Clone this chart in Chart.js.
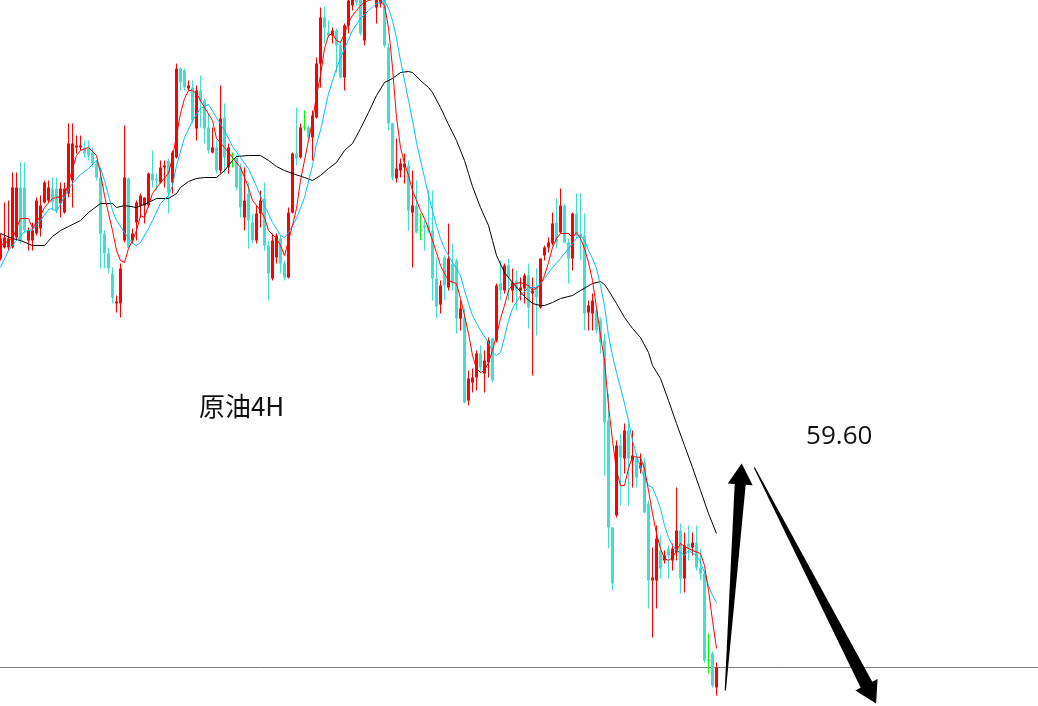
<!DOCTYPE html>
<html>
<head>
<meta charset="utf-8">
<title>原油4H</title>
<script src="https://cdn.jsdelivr.net/npm/chart.js@4/dist/chart.umd.min.js"></script>
<style>
  html, body { margin: 0; padding: 0; background: #ffffff; overflow: hidden; }
  #wrap { width: 1038px; height: 706px; position: relative; }
  canvas { display: block; }
</style>
</head>
<body>
<div id="wrap"><canvas id="chart" width="1038" height="706"></canvas></div>
<script>
// Crude oil, 4-hour candles (oldest first)
const opens = [
  59.42,59.53,59.53,59.53,59.63,60.13,60.13,59.60,59.60,59.67,
  59.72,59.98,60.00,60.12,60.12,59.97,59.88,60.07,60.20,60.53,
  60.53,60.53,60.52,60.48,60.37,60.23,59.67,59.47,59.27,58.97,
  58.97,59.60,60.22,59.60,59.78,59.95,59.95,59.95,60.27,60.22,
  60.18,60.33,60.40,60.18,60.43,61.32,61.30,61.12,61.13,60.72,
  61.10,61.00,60.73,60.48,60.53,60.30,60.83,60.33,60.44,60.43,
  60.33,59.83,60.07,59.78,59.60,59.87,60.02,59.55,59.22,59.43,
  59.62,59.37,59.23,59.88,60.47,60.43,60.73,60.73,60.63,60.83,
  61.37,61.83,61.68,61.65,61.70,61.55,61.23,61.75,61.95,62.12,
  62.05,61.60,62.20,62.08,61.93,61.97,62.05,61.53,60.77,60.22,
  60.30,60.33,60.35,59.88,59.95,59.70,59.75,59.75,59.70,59.22,
  58.96,59.43,59.13,59.37,59.40,58.82,58.83,58.00,58.18,58.23,
  58.47,58.27,58.38,58.62,58.60,59.17,59.10,59.35,59.10,59.20,
  59.10,59.12,59.25,59.07,59.13,58.93,59.45,59.53,59.57,59.78,
  59.68,59.95,59.58,59.42,59.87,59.67,59.65,58.88,58.87,58.90,
  58.80,58.60,57.80,56.73,56.85,57.55,57.42,57.70,57.40,57.42,
  57.32,57.38,56.97,56.20,56.20,56.50,56.40,56.52,56.40,56.48,
  56.70,56.22,56.57,56.53,56.58,56.33,56.27,55.40,55.47,55.13
];
const highs = [
  59.67,59.98,60.00,60.28,60.28,60.38,60.38,59.73,59.78,60.03,
  60.05,60.20,60.20,60.23,60.23,60.18,60.18,60.77,60.77,60.65,
  60.65,60.60,60.60,60.53,60.40,60.33,59.70,59.53,59.33,59.05,
  59.37,60.75,60.23,59.72,60.00,60.07,60.03,60.28,60.50,60.27,
  60.40,60.40,60.42,60.50,61.37,61.33,61.32,61.20,61.20,61.15,
  61.25,61.02,60.87,60.73,60.60,61.15,60.97,60.57,60.48,60.45,
  60.37,60.33,60.18,59.87,59.95,60.10,60.18,59.60,59.67,59.67,
  59.65,59.40,59.93,60.48,60.93,60.77,60.90,60.75,60.90,61.43,
  61.93,61.94,61.80,61.73,61.72,61.60,61.77,62.08,62.20,62.18,
  62.10,62.12,62.25,62.30,62.10,62.08,62.10,61.57,60.78,60.62,
  60.42,60.47,60.40,60.30,60.20,59.87,59.80,60.10,60.10,59.43,
  59.20,59.45,59.77,59.57,59.42,59.00,58.92,58.30,58.32,58.50,
  58.55,58.50,58.63,58.63,59.17,59.40,59.37,59.42,59.32,59.30,
  59.23,59.27,59.37,59.23,59.32,59.42,59.55,59.63,59.88,60.02,
  60.12,59.97,59.62,59.88,60.07,60.07,59.87,59.00,59.07,58.93,
  58.83,58.67,58.07,56.73,57.60,57.67,57.77,57.77,57.70,57.47,
  57.47,57.43,57.00,56.53,56.75,56.65,56.50,56.55,56.57,57.13,
  56.77,56.68,56.75,56.68,56.75,56.52,56.30,55.67,55.49,55.38
];
const lows = [
  59.40,59.52,59.50,59.52,59.60,59.57,59.67,59.50,59.50,59.65,
  59.64,59.97,59.98,59.90,59.87,59.83,59.87,60.03,59.93,60.47,
  60.50,60.43,60.40,60.33,60.20,59.32,59.32,59.27,58.97,58.88,
  58.83,59.58,59.52,59.57,59.60,59.83,59.77,59.93,60.13,60.10,
  60.17,60.13,59.87,60.07,60.42,61.10,61.10,61.10,60.77,60.60,
  60.73,60.57,60.47,60.47,60.27,60.27,60.27,60.27,60.33,60.10,
  59.83,59.70,59.52,59.57,59.57,59.73,59.50,59.00,59.20,59.37,
  59.27,59.20,59.22,59.87,60.35,60.42,60.70,60.62,60.40,60.82,
  61.13,61.57,61.63,61.57,61.28,61.22,61.10,61.67,61.90,61.95,
  61.65,61.55,62.05,62.03,61.77,61.93,61.53,60.70,60.20,60.18,
  60.23,60.17,59.70,59.33,59.67,59.60,59.50,59.67,59.00,58.82,
  58.87,59.00,59.10,59.10,58.67,58.70,57.97,57.95,58.08,58.10,
  58.27,58.08,58.23,58.18,58.58,59.00,59.07,59.00,58.98,58.90,
  59.00,58.97,58.72,58.25,58.65,58.92,59.40,59.48,59.55,59.52,
  59.67,59.57,59.17,59.30,59.62,59.40,58.70,58.70,58.70,58.67,
  58.47,57.25,56.52,56.10,56.83,56.95,57.27,56.95,57.13,57.13,
  57.27,56.87,55.92,55.63,55.92,56.22,56.37,56.22,56.30,56.40,
  56.07,56.08,56.40,56.45,56.30,56.20,55.38,55.27,55.13,55.05
];
const closes = [
  59.62,59.63,59.62,60.13,60.13,59.60,59.70,59.70,59.70,60.00,
  59.95,60.18,60.13,59.98,59.90,60.12,60.12,60.57,60.57,60.55,
  60.55,60.47,60.45,60.37,60.23,59.67,59.47,59.32,59.03,58.99,
  59.32,60.23,59.53,59.67,59.98,60.05,60.03,60.27,60.20,60.20,
  60.33,60.35,60.08,60.48,61.32,61.18,61.13,61.15,60.80,61.10,
  61.00,60.72,60.50,60.53,60.30,60.82,60.43,60.53,60.44,60.13,
  59.93,60.00,59.80,59.60,59.87,60.00,59.55,59.27,59.60,59.65,
  59.37,59.23,59.88,60.47,60.42,60.73,60.73,60.63,60.85,61.37,
  61.83,61.73,61.65,61.70,61.55,61.23,61.75,62.00,62.12,61.98,
  61.67,62.03,62.08,62.22,62.02,62.05,61.55,60.77,60.23,60.32,
  60.37,60.37,59.90,59.95,59.68,59.70,59.73,59.70,59.22,58.94,
  59.15,59.15,59.42,59.17,58.82,58.92,57.98,58.22,58.23,58.47,
  58.33,58.40,58.60,58.20,59.15,59.10,59.35,59.23,59.18,59.10,
  59.13,59.25,58.93,59.10,59.03,59.42,59.53,59.58,59.77,59.58,
  59.95,59.58,59.42,59.87,59.65,59.63,58.87,58.95,59.00,58.70,
  58.58,57.78,56.73,56.17,57.55,57.43,57.70,57.42,57.45,57.23,
  57.38,56.88,56.20,56.23,56.62,56.32,56.45,56.45,56.52,56.70,
  56.22,56.55,56.52,56.58,56.33,56.27,55.40,55.40,55.15,55.33
];

// Moving averages as [candle index, price]
const fastMa = [
  [0,59.55],[3,59.62],[5,59.82],[7,59.82],[8,59.72],[10,59.85],[11,59.93],[13,60.02],[16,60.05],[17,60.17],
  [18,60.32],[19,60.45],[20,60.50],[22,60.53],[24,60.45],[25,60.27],[26,60.05],[27,59.87],[28,59.70],[29,59.50],
  [30,59.40],[31,59.38],[32,59.52],[33,59.60],[34,59.70],[35,59.85],[36,59.83],[37,59.95],[38,60.07],[40,60.18],
  [42,60.27],[43,60.43],[44,60.65],[45,60.87],[46,61.02],[47,61.10],[48,61.10],[49,61.07],[51,60.93],[53,60.80],
  [54,60.62],[56,60.53],[58,60.43],[60,60.33],[62,60.13],[63,60.00],[65,59.90],[66,59.83],[67,59.70],[69,59.62],
  [70,59.55],[71,59.45],[72,59.60],[73,59.75],[74,59.92],[75,60.20],[76,60.40],[77,60.60],[78,60.80],[79,61.05],
  [80,61.25],[81,61.52],[82,61.65],[83,61.67],[84,61.60],[85,61.58],[86,61.67],[87,61.78],[88,61.85],[89,61.90],
  [90,61.95],[91,61.98],[92,62.00],[94,62.02],[95,62.00],[96,61.95],[97,61.73],[98,61.33],[99,60.83],[100,60.53],
  [101,60.37],[102,60.25],[103,60.10],[104,60.00],[105,59.90],[106,59.82],[107,59.72],[108,59.60],[109,59.48],[110,59.35],
  [111,59.27],[112,59.20],[114,59.17],[115,59.02],[116,58.85],[117,58.67],[118,58.45],[119,58.32],[120,58.28],[121,58.30],
  [122,58.38],[123,58.50],[124,58.65],[125,58.82],[126,58.95],[127,59.10],[128,59.16],[130,59.18],[132,59.15],[133,59.10],
  [135,59.15],[136,59.25],[137,59.38],[138,59.53],[139,59.62],[140,59.67],[142,59.67],[143,59.63],[144,59.68],[145,59.62],
  [146,59.52],[147,59.38],[148,59.20],[149,58.93],[150,58.65],[151,58.40],[152,57.95],[153,57.60],[154,57.30],[155,57.15],
  [156,57.15],[157,57.32],[158,57.44],[160,57.43],[161,57.32],[162,57.10],[163,56.87],[164,56.67],[165,56.52],[166,56.42],
  [167,56.40],[168,56.43],[169,56.50],[170,56.57],[171,56.54],[173,56.50],[175,56.47],[176,56.35],[177,56.10],[178,55.80],
  [179,55.52]
];
const midMa = [
  [0,59.33],[2,59.50],[4,59.60],[6,59.69],[8,59.71],[10,59.80],[12,59.91],[13,59.92],[14,59.89],[16,60.04],
  [18,60.17],[20,60.26],[22,60.32],[24,60.40],[25,60.32],[26,60.20],[27,60.05],[28,59.90],[29,59.80],[31,59.68],
  [33,59.57],[34,59.55],[35,59.58],[37,59.72],[38,59.80],[40,59.97],[42,60.05],[43,60.15],[44,60.35],[46,60.63],
  [48,60.80],[50,60.92],[52,60.96],[54,60.83],[56,60.70],[58,60.54],[60,60.43],[62,60.32],[64,60.14],[66,59.95],
  [68,59.78],[70,59.65],[71,59.63],[72,59.68],[74,59.82],[76,60.03],[78,60.35],[79,60.57],[80,60.70],[82,61.07],
  [84,61.32],[86,61.52],[88,61.70],[90,61.82],[92,61.90],[94,61.97],[96,62.00],[97,61.92],[98,61.80],[99,61.62],
  [100,61.40],[101,61.20],[102,61.00],[103,60.80],[104,60.58],[105,60.40],[106,60.23],[107,60.05],[108,59.90],[109,59.75],
  [110,59.62],[111,59.52],[112,59.45],[113,59.38],[114,59.32],[115,59.25],[116,59.10],[117,58.97],[118,58.85],[120,58.70],
  [122,58.58],[123,58.48],[124,58.45],[125,58.48],[126,58.63],[127,58.80],[128,58.92],[130,59.05],[132,59.13],[134,59.13],
  [136,59.22],[138,59.33],[140,59.42],[142,59.52],[144,59.62],[145,59.65],[146,59.60],[147,59.50],[148,59.42],[149,59.32],
  [150,59.15],[151,58.95],[152,58.65],[153,58.45],[154,58.28],[155,58.13],[156,57.97],[157,57.80],[158,57.60],[159,57.45],
  [160,57.33],[161,57.22],[162,57.15],[163,57.13],[164,57.03],[165,56.92],[166,56.75],[167,56.63],[168,56.55],[169,56.50],
  [170,56.48],[171,56.45],[172,56.50],[174,56.45],[175,56.38],[176,56.28],[177,56.15],[178,56.05],[179,55.98]
];
const slowMa = [
  [0,59.67],[3,59.62],[5,59.60],[8,59.55],[11,59.55],[13,59.64],[15,59.70],[17,59.74],[20,59.80],[22,59.88],
  [25,59.97],[28,59.97],[29,59.93],[31,59.95],[34,59.93],[37,59.98],[39,60.02],[42,60.02],[44,60.07],[45,60.13],
  [47,60.19],[49,60.22],[51,60.23],[54,60.23],[56,60.30],[58,60.40],[59,60.44],[62,60.45],[65,60.45],[67,60.40],
  [69,60.34],[71,60.30],[73,60.27],[76,60.23],[78,60.20],[80,60.25],[82,60.32],[84,60.38],[86,60.50],[88,60.57],
  [90,60.72],[92,60.88],[94,61.05],[96,61.18],[98,61.22],[100,61.28],[102,61.29],[103,61.28],[105,61.20],[107,61.13],
  [108,61.08],[110,60.93],[112,60.76],[114,60.60],[116,60.40],[117,60.27],[118,60.14],[120,59.93],[122,59.75],[123,59.60],
  [124,59.45],[126,59.28],[128,59.18],[131,59.04],[133,58.97],[135,58.95],[136,58.95],[138,58.98],[140,59.02],[143,59.05],
  [145,59.10],[148,59.17],[150,59.19],[151,59.16],[152,59.10],[154,58.97],[156,58.83],[158,58.72],[160,58.63],[162,58.48],
  [163,58.35],[165,58.22],[167,58.00],[169,57.77],[171,57.55],[173,57.33],[175,57.10],[177,56.87],[179,56.67]
];

// Hand-drawn annotations
const noteText  = ['原油4H', '59.60'];
const noteX     = [49.6, 201.4];
const notePrice = [57.85, 57.57];
const noteFont  = ['26px "Noto Sans CJK SC", "Noto Sans", sans-serif', '26px "Open Sans", "Noto Sans", sans-serif'];

const arrowFromX = [181.2, 188.45];
const arrowFromY = [55.10, 57.33];
const arrowToX   = [185.3, 218.9];
const arrowToY   = [57.37, 54.97];
const arrowShaft = [5.5, 6.5];

const UP_COLOR = '#ff0000';
const DOWN_COLOR = '#40e0d0';
const DOJI_COLOR = '#00ff00';

function candleColor(i) {
  if (closes[i] > opens[i]) return UP_COLOR;
  if (closes[i] < opens[i]) return DOWN_COLOR;
  return DOJI_COLOR;
}

const colors = opens.map((o, i) => candleColor(i));
const wickData = opens.map((o, i) => ({ x: i, y: [lows[i], highs[i]] }));
const bodyData = opens.map((o, i) => ({ x: i, y: [o, closes[i]] }));
const toPoints = pairs => pairs.map(p => ({ x: p[0], y: p[1] }));
const lastClose = closes[closes.length - 1];

const annotations = {
  id: 'annotations',
  afterDraw(chart) {
    const { ctx, scales: { x, y } } = chart;
    ctx.save();
    ctx.fillStyle = '#000000';
    for (let k = 0; k < arrowFromX.length; k++) {
      const x1 = x.getPixelForValue(arrowFromX[k]);
      const y1 = y.getPixelForValue(arrowFromY[k]);
      const x2 = x.getPixelForValue(arrowToX[k]);
      const y2 = y.getPixelForValue(arrowToY[k]);
      const len = Math.hypot(x2 - x1, y2 - y1);
      const ux = (x2 - x1) / len, uy = (y2 - y1) / len;
      const nx = -uy, ny = ux;
      const headLen = 21, headHalf = 12.5, shaftEnd = arrowShaft[k], shaftStart = 0.6;
      const bx = x2 - ux * headLen, by = y2 - uy * headLen;
      ctx.beginPath();
      ctx.moveTo(x1 + nx * shaftStart, y1 + ny * shaftStart);
      ctx.lineTo(bx + nx * shaftEnd, by + ny * shaftEnd);
      ctx.lineTo(bx + nx * headHalf, by + ny * headHalf);
      ctx.lineTo(x2, y2);
      ctx.lineTo(bx - nx * headHalf, by - ny * headHalf);
      ctx.lineTo(bx - nx * shaftEnd, by - ny * shaftEnd);
      ctx.lineTo(x1 - nx * shaftStart, y1 - ny * shaftStart);
      ctx.closePath();
      ctx.fill();
    }
    ctx.fillStyle = '#111111';
    ctx.textAlign = 'left';
    ctx.textBaseline = 'alphabetic';
    for (let k = 0; k < noteText.length; k++) {
      ctx.font = noteFont[k];
      ctx.fillText(noteText[k], x.getPixelForValue(noteX[k]), y.getPixelForValue(notePrice[k]));
    }
    ctx.restore();
  }
};

const lineStyle = { type: 'line', pointRadius: 0, pointHoverRadius: 0, borderWidth: 1, tension: 0, fill: false };

new Chart(document.getElementById('chart'), {
  type: 'bar',
  data: {
    datasets: [
      { ...lineStyle, label: 'MA fast', data: toPoints(fastMa), borderColor: '#ff0000', order: 0 },
      { ...lineStyle, label: 'MA mid', data: toPoints(midMa), borderColor: '#00bfff', order: 1 },
      { ...lineStyle, label: 'MA slow', data: toPoints(slowMa), borderColor: '#000000', order: 2 },
      { type: 'bar', label: 'Body', data: bodyData, backgroundColor: colors, borderWidth: 0,
        barThickness: 3, grouped: false, minBarLength: 1, inflateAmount: 0, order: 3 },
      { type: 'bar', label: 'Wick', data: wickData, backgroundColor: colors, borderWidth: 0,
        barThickness: 1, grouped: false, inflateAmount: 0, order: 4 },
      { ...lineStyle, label: 'Bid', data: [{ x: -0.125, y: lastClose }, { x: 259.375, y: lastClose }],
        borderColor: '#7a828c', order: 5 }
    ]
  },
  options: {
    responsive: false,
    devicePixelRatio: 1,
    animation: false,
    events: [],
    layout: { padding: 0 },
    plugins: { legend: { display: false }, tooltip: { enabled: false } },
    scales: {
      x: { type: 'linear', min: -0.125, max: 259.375, offset: false, display: false },
      y: { type: 'linear', min: 54.945, max: 62.005, display: false }
    }
  },
  plugins: [annotations]
});
</script>
</body>
</html>
